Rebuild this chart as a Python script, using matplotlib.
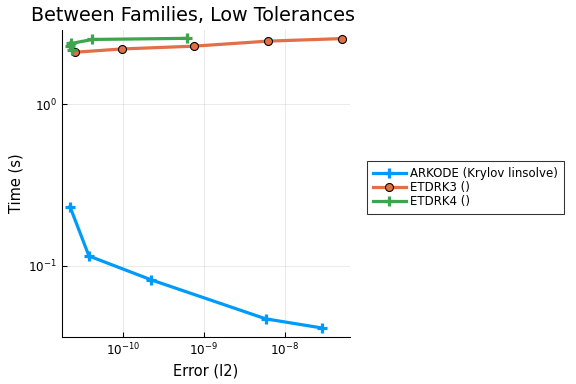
import matplotlib
matplotlib.use("Agg")
import matplotlib.pyplot as plt
from matplotlib.ticker import FixedLocator, NullLocator, LogFormatterMathtext

# Data
arkode_err = [2.22e-11, 3.8e-11, 2.22e-10, 5.8e-9, 2.86e-8]
arkode_time = [0.232, 0.115, 0.0819, 0.0469, 0.0412]

etdrk3_err = [2.55e-11, 9.6e-11, 7.5e-10, 6.1e-9, 5.0e-8]
etdrk3_time = [2.10, 2.20, 2.29, 2.46, 2.55]

etdrk4_err = [6.1e-10, 4.18e-11, 2.3e-11, 2.25e-11, 2.35e-11]
etdrk4_time = [2.56, 2.52, 2.38, 2.28, 2.18]

labels = ["ARKODE (Krylov linsolve)", "ETDRK3 ()", "ETDRK4 ()"]
colors = ["#009AFA", "#E36F47", "#3EA44E"]
xticks = [1e-10, 1e-9, 1e-8]
yticks = [1e-1, 1e0]

fig = plt.figure(figsize=(6, 4), dpi=96)
ax = fig.add_axes([0.1076, 0.1224, 0.5, 0.7995])

ax.plot(arkode_err, arkode_time, color=colors[0], lw=2.4, marker="+",
        ms=7, mew=2.4, label=labels[0])
ax.plot(etdrk3_err, etdrk3_time, color=colors[1], lw=2.4, marker="o",
        ms=6, mec="black", mew=0.8, label=labels[1])
ax.plot(etdrk4_err, etdrk4_time, color=colors[2], lw=2.4, marker="+",
        ms=7, mew=2.4, label=labels[2])

ax.set_xscale("log")
ax.set_yscale("log")
ax.set_xlim(10**-10.753, 10**-7.198)
ax.set_ylim(10**-1.441, 10**0.46)

ax.xaxis.set_major_locator(FixedLocator(xticks))
ax.yaxis.set_major_locator(FixedLocator(yticks))
ax.xaxis.set_minor_locator(NullLocator())
ax.yaxis.set_minor_locator(NullLocator())
ax.xaxis.set_major_formatter(LogFormatterMathtext())
ax.yaxis.set_major_formatter(LogFormatterMathtext())

ax.grid(True, color="black", alpha=0.1, lw=0.6)
ax.spines["top"].set_visible(False)
ax.spines["right"].set_visible(False)
ax.tick_params(direction="in", length=4, width=0.8, labelsize=9, colors="black")

ax.set_xlabel("Error (l2)", fontsize=11)
ax.set_ylabel("Time (s)", fontsize=11)
fig.text(31 / 576, 0.985, "Between Families, Low Tolerances", fontsize=14.3,
         ha="left", va="top")

leg = ax.legend(loc="center left", bbox_to_anchor=(0.059, 0.487), fontsize=8.8,
                frameon=True, fancybox=False, edgecolor="black",
                handlelength=2.8, borderpad=0.5, labelspacing=0.1,
                handletextpad=0.4, borderaxespad=0)
leg.set_bbox_to_anchor((1.059, 0.487), transform=ax.transAxes)
leg.get_frame().set_linewidth(0.8)

fig.savefig("out.png", dpi=96)
